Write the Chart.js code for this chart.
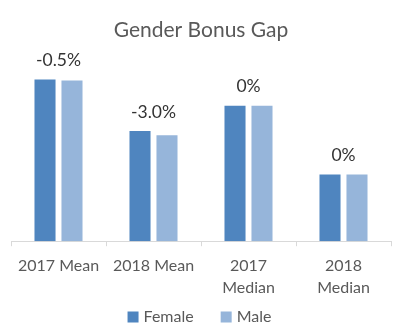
<!DOCTYPE html>
<html>
<head>
<meta charset="utf-8">
<script src="https://cdn.jsdelivr.net/npm/chart.js@4/dist/chart.umd.min.js"></script>
<style>
    html, body { margin: 0; padding: 0; background: #fff; }
    canvas { display: block; }
</style>
</head>
<body>
<canvas id="chartBonusGap" width="399" height="327"></canvas>
<script>
const categorias = [['2017 Mean'], ['2018 Mean'], ['2017', 'Median'], ['2018', 'Median']];
const femenino = [160, 109, 134, 66];
const masculino = [159, 105, 134, 66];
const brechas = ['-0.5%', '-3.0%', '0%', '0%'];

const FUENTE = 'Lato, "Open Sans", sans-serif';
const GRIS = '#595959';

// etiquetas de brecha encima de cada grupo de barras
const etiquetasBrecha = {
    id: 'etiquetasBrecha',
    afterDatasetsDraw(chart) {
        const { ctx, scales } = chart;
        ctx.save();
        ctx.font = '17.5px ' + FUENTE;
        ctx.fillStyle = '#333333';
        ctx.textAlign = 'center';
        ctx.textBaseline = 'middle';
        brechas.forEach((texto, i) => {
            const alto = Math.max(femenino[i], masculino[i]);
            const x = scales.x.getPixelForValue(i);
            const y = scales.y.getPixelForValue(alto) - 19;
            ctx.fillText(texto, x, y);
        });
        ctx.restore();
    }
};

// leyenda propia: cuadro pegado al texto y más aire entre series
const leyendaInferior = {
    id: 'leyendaInferior',
    afterDraw(chart) {
        const { ctx, width, height } = chart;
        const caja = 11, hueco = 5, separacion = 27;
        ctx.save();
        ctx.font = '16px ' + FUENTE;
        ctx.textBaseline = 'middle';
        const items = chart.data.datasets.map(ds => ({ texto: ds.label, color: ds.backgroundColor, ancho: ctx.measureText(ds.label).width }));
        const total = items.reduce((acc, it) => acc + caja + hueco + it.ancho, 0) + separacion * (items.length - 1);
        let x = (width - total) / 2;
        const y = height - 10;
        items.forEach(it => {
            ctx.fillStyle = it.color;
            ctx.fillRect(x, y - caja / 2, caja, caja);
            x += caja + hueco;
            ctx.fillStyle = GRIS;
            ctx.fillText(it.texto, x, y);
            x += it.ancho + separacion;
        });
        ctx.restore();
    }
};

new Chart(document.getElementById('chartBonusGap').getContext('2d'), {
    type: 'bar',
    data: {
        labels: categorias,
        datasets: [
            { label: 'Female', data: femenino, backgroundColor: '#4f85bf', categoryPercentage: 0.568, barPercentage: 0.78 },
            { label: 'Male', data: masculino, backgroundColor: '#96b5da', categoryPercentage: 0.568, barPercentage: 0.78 }
        ]
    },
    options: {
        responsive: false,
        animation: false,
        layout: { padding: { top: 18, left: 11, right: 8, bottom: 20 } },
        plugins: {
            title: {
                display: true,
                text: 'Gender Bonus Gap',
                color: GRIS,
                font: { family: FUENTE, size: 21, weight: 'normal' },
                padding: { top: 0, bottom: 0 }
            },
            legend: { display: false },
            tooltip: { enabled: false }
        },
        scales: {
            x: {
                grid: { drawOnChartArea: false, color: '#d9d9d9', tickLength: 5, offset: true },
                border: { color: '#d9d9d9' },
                ticks: { color: GRIS, font: { family: FUENTE, size: 16, lineHeight: 1.4 }, padding: 8, maxRotation: 0 }
            },
            y: {
                display: false,
                min: 0,
                max: 196
            }
        }
    },
    plugins: [etiquetasBrecha, leyendaInferior]
});
</script>
</body>
</html>
